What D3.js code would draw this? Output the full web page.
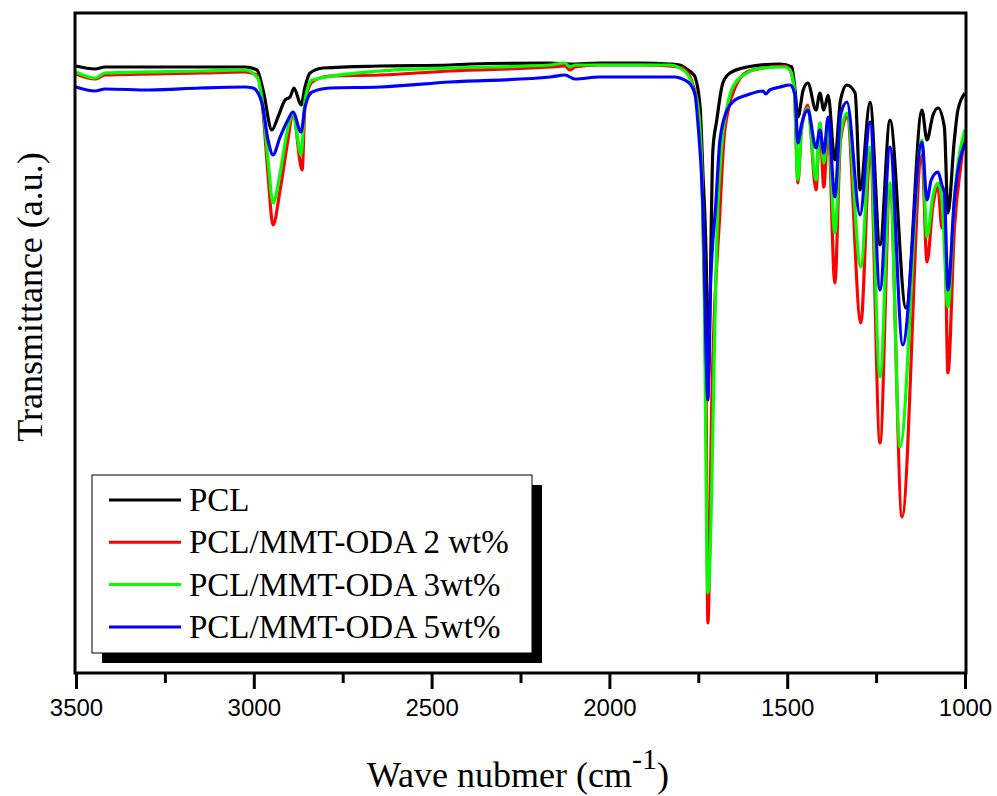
<!DOCTYPE html>
<html>
<head>
<meta charset="utf-8">
<script src="https://cdn.jsdelivr.net/npm/d3@7"></script>
<style>
  body { margin: 0; background: #fff; }
  svg { display: block; }
</style>
</head>
<body>
<svg width="997" height="796"></svg>
<script>
// spectra: [wavenumber (cm-1), transmittance (a.u.)]
var pcl = [
  [3500, 607], [3447, 604], [3418, 606], [3292, 606], [3151, 606], [3025, 606],
  [2991, 603], [2974, 583], [2949, 543], [2932, 556], [2912, 573], [2898, 576],
  [2887, 585], [2867, 568], [2856, 586], [2842, 600], [2805, 605], [2645, 607],
  [2448, 608], [2392, 609], [2167, 610], [2111, 609], [2027, 610], [1914, 610],
  [1830, 609], [1802, 608], [1779, 603], [1765, 599], [1759, 596], [1745, 566],
  [1737, 500], [1728, 416], [1722, 293], [1709, 523], [1698, 553], [1681, 590],
  [1661, 600], [1613, 606], [1520, 609], [1487, 606], [1478, 583], [1470, 556],
  [1455, 583], [1442, 590], [1419, 563], [1408, 580], [1397, 563], [1385, 578],
  [1366, 513], [1350, 573], [1332, 588], [1309, 580], [1295, 483], [1267, 571],
  [1239, 428], [1211, 553], [1166, 365], [1121, 563], [1107, 533], [1090, 558],
  [1076, 565], [1058, 546], [1048, 460], [1030, 533], [1020, 563], [1000, 580]
];

var oda2 = [
  [3500, 599], [3447, 594], [3418, 598], [3151, 600], [3025, 601], [2991, 598],
  [2974, 561], [2960, 498], [2946, 448], [2926, 483], [2904, 533], [2890, 560],
  [2864, 503], [2856, 568], [2836, 591], [2786, 597], [2645, 598], [2448, 602],
  [2167, 606], [2125, 607], [2111, 603], [2097, 606], [2027, 608], [1914, 608],
  [1830, 607], [1802, 606], [1779, 600], [1765, 588], [1751, 568], [1740, 503],
  [1734, 403], [1728, 273], [1723, 50], [1712, 273], [1689, 463], [1678, 533],
  [1664, 566], [1647, 585], [1613, 601], [1568, 605], [1506, 607], [1492, 603],
  [1480, 583], [1470, 490], [1460, 543], [1442, 568], [1419, 483], [1408, 550],
  [1397, 486], [1385, 548], [1366, 390], [1350, 533], [1332, 556], [1293, 350],
  [1267, 520], [1239, 230], [1211, 483], [1177, 156], [1121, 518], [1107, 411],
  [1090, 468], [1076, 486], [1065, 445], [1058, 463], [1048, 300], [1030, 443],
  [1010, 513], [1000, 543]
];

var oda3 = [
  [3500, 601], [3447, 595], [3418, 600], [3151, 602], [3025, 603], [2991, 596],
  [2974, 566], [2960, 513], [2946, 470], [2926, 500], [2907, 540], [2890, 560],
  [2867, 518], [2856, 573], [2836, 593], [2645, 602], [2448, 605], [2167, 608],
  [2125, 610], [2111, 606], [2097, 608], [2027, 608], [1914, 608], [1830, 608],
  [1802, 605], [1779, 598], [1765, 586], [1751, 566], [1740, 500], [1734, 400],
  [1723, 80], [1695, 466], [1683, 533], [1669, 566], [1653, 586], [1613, 600],
  [1568, 605], [1506, 606], [1492, 603], [1480, 583], [1470, 493], [1460, 543],
  [1442, 565], [1419, 493], [1408, 550], [1397, 510], [1385, 550], [1366, 440],
  [1350, 538], [1332, 560], [1293, 406], [1267, 526], [1239, 296], [1211, 490],
  [1183, 226], [1121, 533], [1107, 436], [1090, 478], [1076, 490], [1065, 473],
  [1048, 366], [1030, 473], [1000, 543]
];

var oda5 = [
  [3500, 586], [3447, 582], [3418, 584], [3292, 583], [3151, 585], [3025, 586],
  [3002, 585], [2977, 570], [2960, 533], [2946, 518], [2926, 536], [2904, 553],
  [2890, 561], [2867, 541], [2856, 566], [2836, 581], [2786, 585], [2645, 586],
  [2448, 591], [2167, 596], [2125, 598], [2097, 594], [2027, 596], [1886, 596],
  [1816, 596], [1802, 595], [1773, 589], [1759, 578], [1751, 550], [1737, 466],
  [1723, 273], [1717, 373], [1700, 473], [1689, 533], [1669, 563], [1647, 573],
  [1613, 578], [1568, 582], [1560, 579], [1549, 583], [1520, 586], [1492, 588],
  [1478, 578], [1470, 530], [1460, 548], [1442, 563], [1419, 525], [1408, 543],
  [1397, 520], [1385, 556], [1366, 476], [1350, 558], [1332, 571], [1295, 458],
  [1267, 551], [1239, 383], [1211, 526], [1175, 328], [1121, 531], [1107, 473],
  [1095, 493], [1076, 501], [1065, 488], [1058, 480], [1048, 383], [1030, 473],
  [1000, 530]
];

var seriesNames = ["PCL", "PCL/MMT-ODA 2 wt%", "PCL/MMT-ODA 3wt%", "PCL/MMT-ODA 5wt%"];
var seriesColors = ["#000000", "#ff0000", "#00ff00", "#0000ff"];
var seriesData = [pcl, oda2, oda3, oda5];

var majorTicks = [3500, 3000, 2500, 2000, 1500, 1000];
var minorTicks = [3250, 2750, 2250, 1750, 1250];

var svg = d3.select("svg");
var plotLeft = 75, plotRight = 966, plotTop = 13, plotBottom = 673;

var x = d3.scaleLinear().domain([3500, 1000]).range([76, 965]);
var y = d3.scaleLinear().domain([0, 660]).range([plotBottom, plotTop]);

svg.append("clipPath").attr("id", "plot")
  .append("rect")
  .attr("x", plotLeft).attr("y", plotTop)
  .attr("width", plotRight - plotLeft).attr("height", plotBottom - plotTop);

var line = d3.line()
  .x(d => x(d[0]))
  .y(d => y(d[1]))
  .curve(d3.curveMonotoneX);

svg.append("g")
  .attr("clip-path", "url(#plot)")
  .selectAll("path")
  .data(seriesData)
  .enter().append("path")
  .attr("d", line)
  .attr("fill", "none")
  .attr("stroke", (d, i) => seriesColors[i])
  .attr("stroke-width", 3.2)
  .attr("stroke-linejoin", "round");

// frame
svg.append("rect")
  .attr("x", plotLeft).attr("y", plotTop)
  .attr("width", plotRight - plotLeft).attr("height", plotBottom - plotTop)
  .attr("fill", "none")
  .attr("stroke", "#000")
  .attr("stroke-width", 3);

// x axis
var xAxis = svg.append("g")
  .attr("transform", "translate(0," + plotBottom + ")")
  .call(d3.axisBottom(x).tickValues(majorTicks).tickSize(16).tickPadding(10).tickFormat(d3.format("d")));
xAxis.select(".domain").remove();
xAxis.selectAll("line").attr("stroke-width", 3);
xAxis.selectAll("text")
  .attr("font-family", "'Liberation Sans', Arial, sans-serif")
  .attr("font-size", 24)
  .attr("fill", "#000");

var xMinor = svg.append("g")
  .attr("transform", "translate(0," + plotBottom + ")")
  .call(d3.axisBottom(x).tickValues(minorTicks).tickSize(10).tickFormat(""));
xMinor.select(".domain").remove();
xMinor.selectAll("line").attr("stroke-width", 3);

// axis titles
var xTitle = svg.append("text")
  .attr("x", 518).attr("y", 787)
  .attr("text-anchor", "middle")
  .attr("font-family", "'Liberation Serif', 'Times New Roman', serif")
  .attr("font-size", 36);
xTitle.append("tspan").text("Wave nubmer (cm");
xTitle.append("tspan").attr("dy", -18).attr("font-size", 30).text("-1");
xTitle.append("tspan").attr("dy", 18).text(")");

svg.append("text")
  .attr("transform", "translate(42,297) rotate(-90)")
  .attr("text-anchor", "middle")
  .attr("font-family", "'Liberation Serif', 'Times New Roman', serif")
  .attr("font-size", 36)
  .text("Transmittance (a.u.)");

// legend
var lg = svg.append("g").attr("transform", "translate(92,475)");
lg.append("rect")
  .attr("x", 10).attr("y", 10)
  .attr("width", 440).attr("height", 178)
  .attr("fill", "#000");
lg.append("rect")
  .attr("x", 0).attr("y", 0)
  .attr("width", 440).attr("height", 178)
  .attr("fill", "#fff")
  .attr("stroke", "#000")
  .attr("stroke-width", 1);

var item = lg.selectAll("g.item")
  .data(seriesNames)
  .enter().append("g")
  .attr("class", "item")
  .attr("transform", (d, i) => "translate(0," + (25 + i * 42.3) + ")");
item.append("line")
  .attr("x1", 17).attr("x2", 89)
  .attr("stroke", (d, i) => seriesColors[i])
  .attr("stroke-width", 3);
item.append("text")
  .attr("x", 97).attr("y", 11)
  .attr("font-family", "'Liberation Serif', 'Times New Roman', serif")
  .attr("font-size", 33)
  .text(d => d);
</script>
</body>
</html>
